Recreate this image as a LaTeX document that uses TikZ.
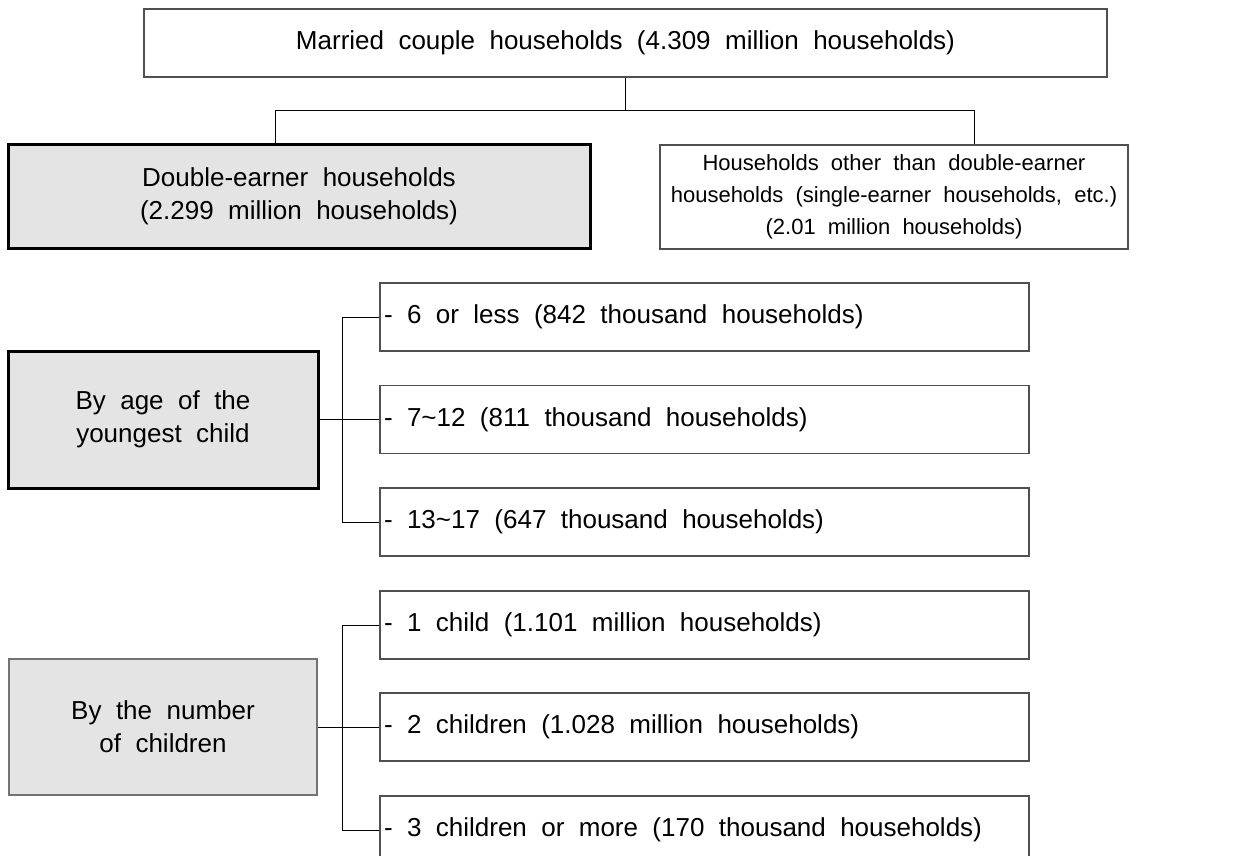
\documentclass[tikz,border=0pt]{standalone}
\usepackage{fontspec}
\setmainfont[WordSpace=2]{Liberation Sans}
\definecolor{boxgray}{HTML}{E4E4E4}
\definecolor{edgegray}{HTML}{505050}
\begin{document}
\begin{tikzpicture}[x=1pt,y=-1pt,
  base/.style={rectangle, inner sep=0pt, align=center, font=\fontsize{26}{33}\selectfont},
  plainbox/.style={base, draw=edgegray, line width=1.3pt},
  heavybox/.style={base, draw=black, line width=3pt, fill=boxgray},
  lightbox/.style={base, draw=black!55, line width=1.3pt, fill=boxgray},
  itembox/.style={plainbox, text width=641pt, inner xsep=4pt, minimum height=68pt, align=left,
    execute at begin node={\spaceskip=14.4pt plus 3pt minus 2pt\relax}},
  conn/.style={draw=black, line width=1pt}
]
\useasboundingbox (0,0) rectangle (1234,856);
\clip (0,0) rectangle (1234,856);

\node[plainbox, minimum width=963pt, minimum height=68pt] (top) at (625.5,43)
  {Married couple households (4.309 million households)};
\node[heavybox, minimum width=582pt, minimum height=103pt] (double) at (299,196.5)
  {Double-earner households\\(2.299 million households)};
\node[plainbox, minimum width=468pt, minimum height=104pt, font=\fontsize{22}{32}\selectfont] (other) at (894,197)
  {Households other than double-earner\\households (single-earner households, etc.)\\(2.01 million households)};

\node[heavybox, minimum width=310pt, minimum height=137pt] (age) at (163,419.5)
  {By age of the\\youngest child};
\node[itembox] (a1) at (704.5,317) {- 6 or less (842 thousand households)};
\node[itembox] (a2) at (704.5,419.5) {- 7\textasciitilde 12 (811 thousand households)};
\node[itembox] (a3) at (704.5,522) {- 13\textasciitilde 17 (647 thousand households)};

\node[lightbox, minimum width=308pt, minimum height=136pt] (num) at (163,727)
  {By the number\\of children};
\node[itembox] (n1) at (704.5,625) {- 1 child (1.101 million households)};
\node[itembox] (n2) at (704.5,727) {- 2 children (1.028 million households)};
\node[itembox] (n3) at (704.5,830) {- 3 children or more (170 thousand households)};

\coordinate (jl) at (275,111);
\coordinate (jr) at (974,111);
\draw[conn] (top.south) -- (top.south |- jl);
\draw[conn] (double.north -| jl) -- (jl) -- (jr) -- (other.north -| jr);

\coordinate (av) at (342,0);
\draw[conn] (age.east) -- (a2.west);
\draw[conn] (a1.west) -- (a1.west -| av) -- (a3.west -| av) -- (a3.west);

\draw[conn] (num.east) -- (n2.west);
\draw[conn] (n1.west) -- (n1.west -| av) -- (n3.west -| av) -- (n3.west);
\end{tikzpicture}
\end{document}
